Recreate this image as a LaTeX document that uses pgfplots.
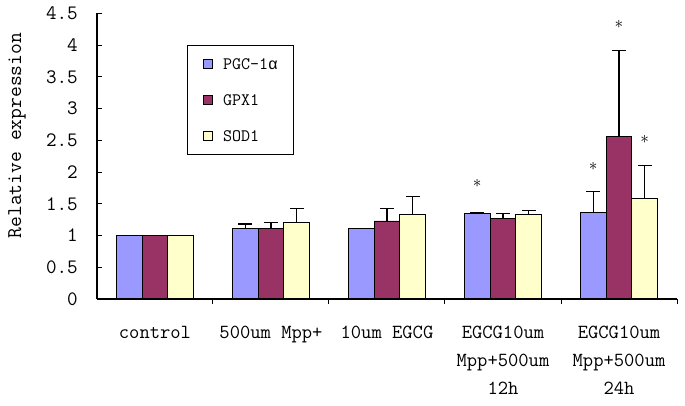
\documentclass[border=0pt]{standalone}
\usepackage{pgfplots}
\pgfplotsset{compat=1.18}
\usepackage{pgfplotstable}
\usepackage{fontspec}
\newfontfamily\greekmono{Liberation Mono}
\definecolor{cPGC}{HTML}{9999FF}
\definecolor{cGPX}{HTML}{993366}
\definecolor{cSOD}{HTML}{FFFFCC}
\pgfplotstableread{
x y e
0 1.00 nan
1 1.11 0.07
2 1.11 nan
3 1.35 0.01
4 1.37 0.32
}\pgc
\pgfplotstableread{
x y e
0 1.00 nan
1 1.11 0.09
2 1.23 0.20
3 1.27 0.08
4 2.56 1.36
}\gpx
\pgfplotstableread{
x y e
0 1.00 nan
1 1.20 0.23
2 1.34 0.28
3 1.33 0.06
4 1.59 0.51
}\sod
\begin{document}
\ttfamily
\begin{tikzpicture}
\begin{axis}[
  at={(0,0)}, anchor=south west,
  scale only axis, width=580pt, height=285.7pt,
  xmin=-0.5, xmax=4.5, ymin=0, ymax=4.5,
  axis x line*=bottom, axis y line*=left,
  axis line style={line width=1.1pt, -},
  axis on top,
  tick align=inside,
  ybar=0pt, bar width=0.222,
  xtick={0.5,1.5,2.5,3.5,4.5},
  xticklabels={},
  extra x ticks={0,1,2,3,4},
  extra x tick labels={{\rule{0pt}{14pt}control},{\rule{0pt}{14pt}500um Mpp+},{\rule{0pt}{14pt}10um EGCG},{\rule{0pt}{14pt}EGCG10um\\Mpp+500um\\12h},{\rule{0pt}{14pt}EGCG10um\\Mpp+500um\\24h}},
  extra x tick style={major tick length=0pt,
    xticklabel style={align=center, anchor=north, inner sep=0pt, yshift=-25pt, font=\ttfamily\fontsize{20}{28}\selectfont}},
  ytick={0,0.5,1,1.5,2,2.5,3,3.5,4,4.5},
  yticklabel style={anchor=east, inner sep=0pt, xshift=-19pt, font=\ttfamily\fontsize{20.5}{20}\selectfont},
  /pgf/number format/assume math mode=true,
  major tick length=5pt,
  tick style={black, line width=1pt},
  ylabel={Relative expression},
  ylabel style={at={(axis description cs:-0.138,0.572)}, anchor=center, font=\ttfamily\fontsize{21}{21}\selectfont\addfontfeature{LetterSpace=12}},
  legend style={at={(axis description cs:0.155,0.889)}, anchor=north west, draw=black, line width=0.9pt,
    inner xsep=16pt, inner ysep=13pt, row sep=25pt, column sep=10pt,
    font=\ttfamily\fontsize{17.5}{17}\selectfont,
    nodes={inner sep=0pt, text height=11pt, text depth=0pt}},
  legend cell align=left,
  legend image code/.code={\draw[#1, draw=black, line width=0.7pt] (0pt,-4.5pt) rectangle (9pt,4.5pt);},
  clip=false,
  error bars/y dir=plus,
  error bars/y explicit,
  error bars/error bar style={line width=1.2pt, black},
  error bars/error mark options={rotate=90, mark size=7pt, line width=1.2pt, black},
]
\addplot[fill=cPGC, draw=black, line width=0.8pt] table[x=x, y=y, y error=e] {\pgc};
\addplot[fill=cGPX, draw=black, line width=0.8pt] table[x=x, y=y, y error=e] {\gpx};
\addplot[fill=cSOD, draw=black, line width=0.8pt] table[x=x, y=y, y error=e] {\sod};
\legend{PGC-1{\greekmono\fontsize{16}{16}\selectfont α}, GPX1, SOD1}
\node[font=\fontsize{16}{16}\selectfont, inner sep=0pt] at (axis cs:2.778,1.82) {$\ast$};
\node[font=\fontsize{16}{16}\selectfont, inner sep=0pt] at (axis cs:3.778,2.09) {$\ast$};
\node[font=\fontsize{16}{16}\selectfont, inner sep=0pt] at (axis cs:4.000,4.33) {$\ast$};
\node[font=\fontsize{16}{16}\selectfont, inner sep=0pt] at (axis cs:4.222,2.51) {$\ast$};
\end{axis}
\pgfresetboundingbox
\path (-97pt,-106pt) rectangle (588pt,299pt);
\end{tikzpicture}
\end{document}
